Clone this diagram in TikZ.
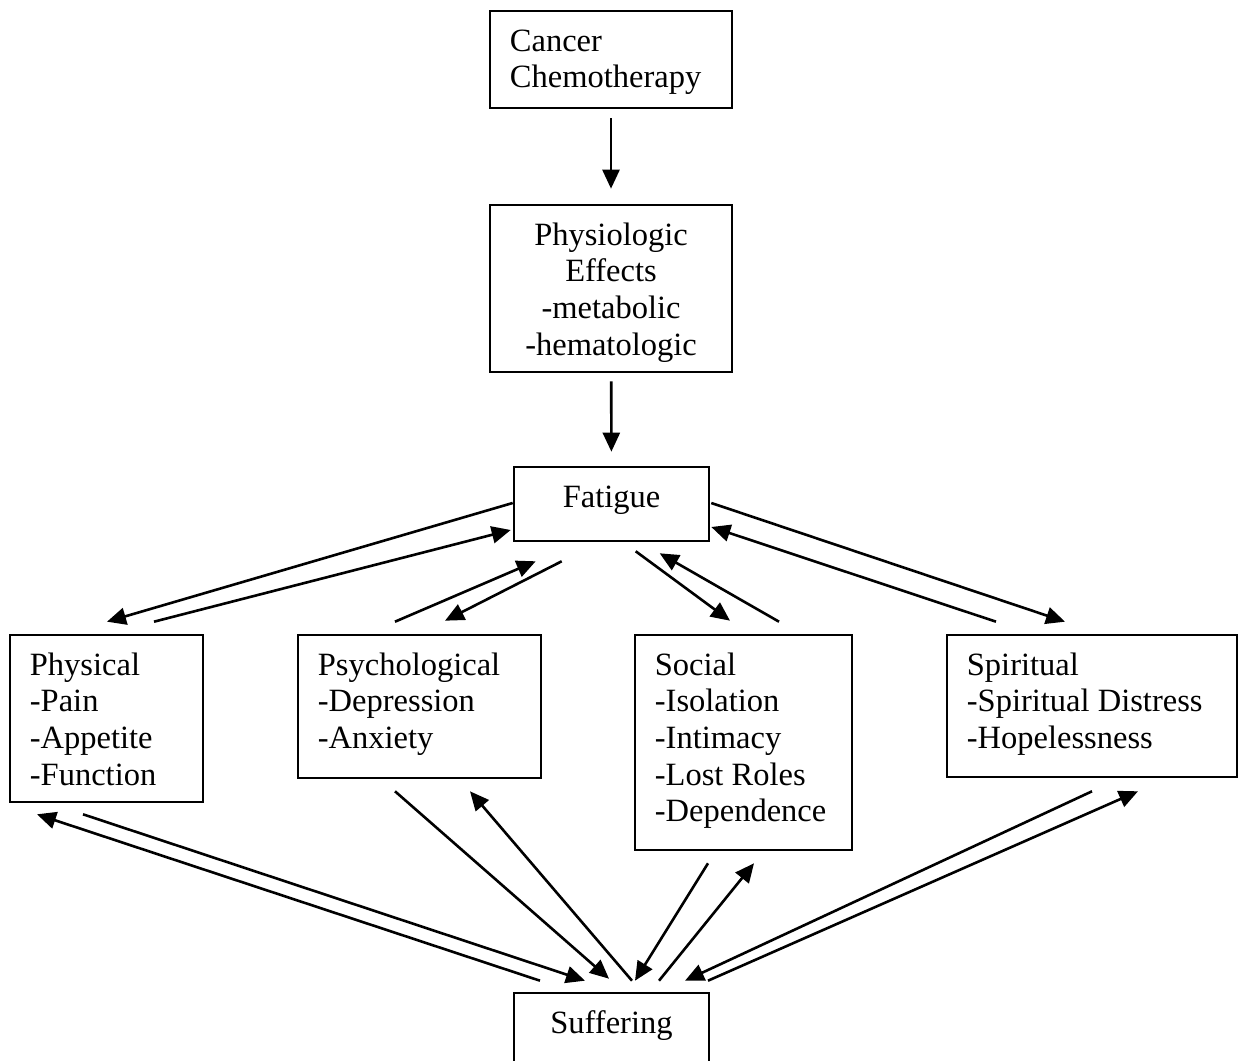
\documentclass[tikz,border=0pt]{standalone}
\usepackage{fontspec}
\setmainfont{Liberation Serif}
\usetikzlibrary{arrows.meta,calc}
\begin{document}
\begin{tikzpicture}[x=1pt,y=1pt,
  box/.style={draw, line width=2.6pt, inner sep=0pt},
  txt/.style={inner sep=0pt, font=\fontsize{32.5}{36.7}\selectfont, align=left, anchor=north west},
  ctxt/.style={inner sep=0pt, font=\fontsize{32.5}{36.7}\selectfont, align=center, anchor=north},
  arr/.style={line width=2.6pt, -{Triangle[length=19pt,width=17pt]}}]
\useasboundingbox (0,0) rectangle (1238,1060);
\clip (0,0) rectangle (1238,1060);
\fill[white] (0,0) rectangle (1238,1060);
% boxes
\node[box, minimum width=242pt, minimum height=97pt] (can) at (611,1000.5) {};
\node[box, minimum width=242pt, minimum height=167pt] (eff) at (611,771.5) {};
\node[box, minimum width=195pt, minimum height=74pt] (fat) at (611.5,556) {};
\node[box, minimum width=193pt, minimum height=167pt] (phys) at (106.5,341.5) {};
\node[box, minimum width=243pt, minimum height=143pt] (psy) at (419.5,353.5) {};
\node[box, minimum width=217pt, minimum height=215pt] (soc) at (743.5,317.5) {};
\node[box, minimum width=290pt, minimum height=142pt] (spi) at (1092,354) {};
\node[box, minimum width=195pt, minimum height=74pt] (suf) at (611.5,30) {};
% texts
\node[txt] (can-t) at ($(can.north west)+(21,-15.5)$) {\strut Cancer\\Chemotherapy};
\node[ctxt] (eff-t) at ($(eff.north)+(0,-15.5)$) {\strut Physiologic\\Effects\\-metabolic\\-hematologic};
\node[ctxt] (fat-t) at ($(fat.north)+(0,-15.5)$) {\strut Fatigue};
\node[txt] (phys-t) at ($(phys.north west)+(21,-15.5)$) {\strut Physical\\-Pain\\-Appetite\\-Function};
\node[txt] (psy-t) at ($(psy.north west)+(21,-15.5)$) {\strut Psychological\\-Depression\\-Anxiety};
\node[txt] (soc-t) at ($(soc.north west)+(21,-15.5)$) {\strut Social\\-Isolation\\-Intimacy\\-Lost Roles\\-Dependence};
\node[txt] (spi-t) at ($(spi.north west)+(21,-15.5)$) {\strut Spiritual\\-Spiritual Distress\\-Hopelessness};
\node[ctxt] (suf-t) at ($(suf.north)+(0,-15.5)$) {\strut Suffering};
% vertical arrows
\draw[arr, shorten <=9pt, shorten >=15pt] (can) -- (eff);
\draw[arr, shorten <=8pt, shorten >=14pt] (eff) -- (fat);
% fatigue <-> level boxes
\draw[arr] ($(fat.west)+(0,1)$) -- ($(phys.north)+(0.5,12)$);
\draw[arr] ($(phys.north)+(47.5,12)$) -- ($(fat.west)+(-2,-26)$);
\draw[arr] ($(psy.north)+(-24.5,12)$) -- ($(fat.south west)+(23,-19)$);
\draw[arr] ($(fat.south west)+(49,-19)$) -- ($(psy.north)+(25.5,13)$);
\draw[arr] ($(fat.south west)+(123,-9)$) -- ($(soc.north)+(-13.5,13)$);
\draw[arr] ($(soc.north)+(35.5,12)$) -- ($(fat.south west)+(147,-11)$);
\draw[arr] ($(fat.east)+(1,1)$) -- ($(spi.north)+(-27,12)$);
\draw[arr] ($(spi.north)+(-96,12)$) -- ($(fat.east)+(1,-23)$);
% level boxes <-> suffering
\draw[arr] ($(suf.north)+(-71.5,11)$) -- ($(phys.south)+(-69.5,-11)$);
\draw[arr] ($(phys.south)+(-23.5,-11)$) -- ($(suf.north)+(-26.5,11)$);
\draw[arr] ($(psy.south)+(-24.5,-12)$) -- ($(suf.north)+(-2.5,13)$);
\draw[arr] ($(suf.north)+(20.5,11)$) -- ($(psy.south)+(50.5,-12)$);
\draw[arr] ($(soc.south)+(-35.5,-12)$) -- ($(suf.north)+(23.5,11)$);
\draw[arr] ($(suf.north)+(47.5,11)$) -- ($(soc.south)+(10.5,-12)$);
\draw[arr] ($(spi.south)+(0,-13)$) -- ($(suf.north)+(73.5,11)$);
\draw[arr] ($(suf.north)+(96.5,11)$) -- ($(spi.south)+(46,-13)$);
\end{tikzpicture}
\end{document}
